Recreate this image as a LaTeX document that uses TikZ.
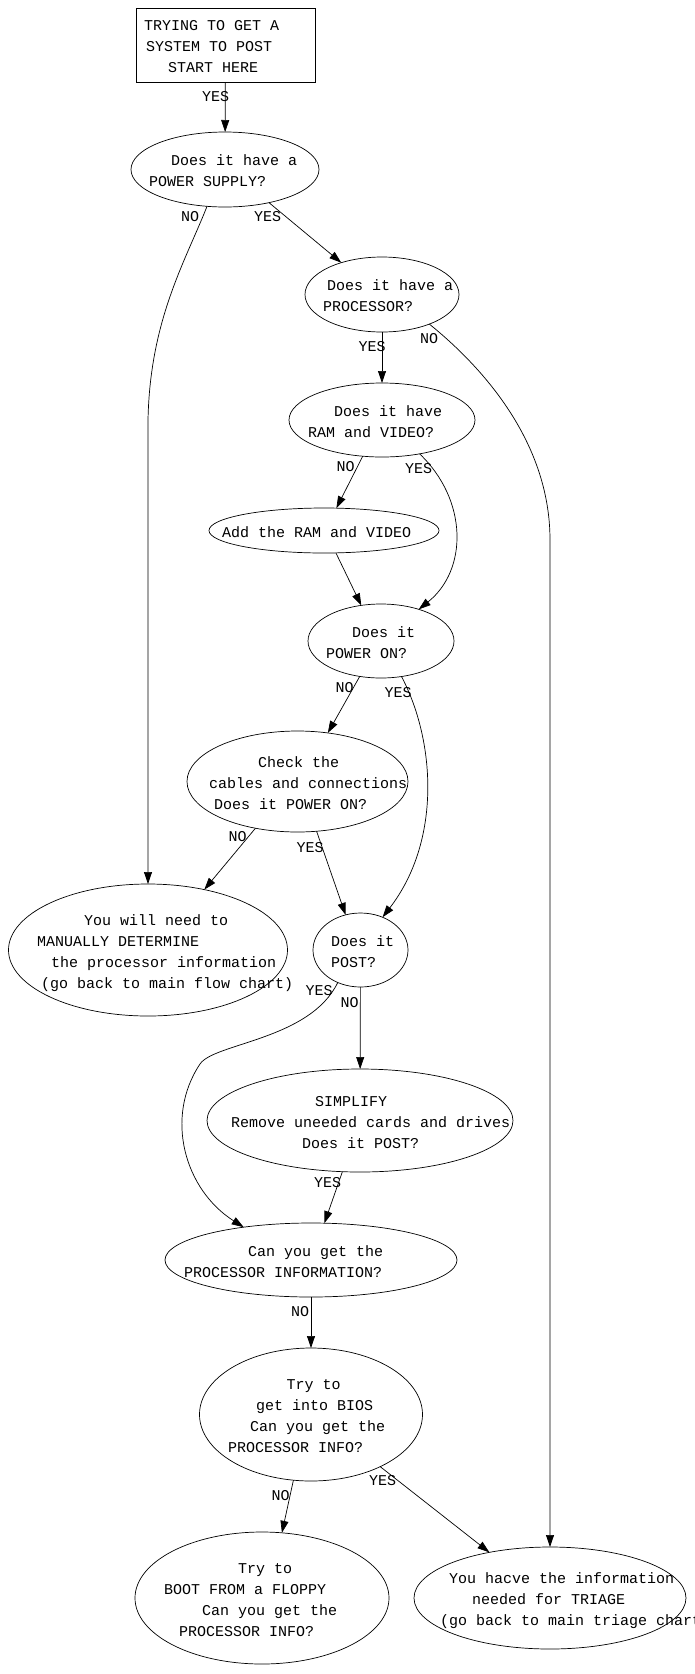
\documentclass[tikz,border=0pt]{standalone}
\usepackage{fontspec}
\setmainfont{Liberation Mono}
\usepackage{tikz}
\usetikzlibrary{arrows.meta,shapes.geometric}
\tikzstyle{startbox} = [rectangle, draw=black, line width=0.8pt, minimum width=179pt, minimum height=74pt, inner sep=0pt, outer sep=0pt, text width=0pt, align=left]
\tikzstyle{decision} = [ellipse, draw=black, line width=0.7pt, inner sep=0pt, outer sep=0pt, text width=0pt, align=left]
\tikzstyle{answer} = [inner sep=0pt]
\tikzstyle{arrow} = [line width=0.7pt, -{Triangle[length=12pt,width=8pt]}]
\newcommand\lineat[2]{\makebox[0pt][l]{\spaceskip=0pt\xspaceskip=0pt\hspace*{#1pt}\rule[-4pt]{0pt}{21pt}#2}}

\begin{document}
\begin{tikzpicture}[x=1pt, y=-1pt, every node/.style={font=\fontsize{15}{21}\selectfont}]
\useasboundingbox (0,0) rectangle (694,1674);

 \node (start) [startbox] at (225.5,45) {\lineat{-81.5}{TRYING TO GET A}\\\lineat{-79.5}{SYSTEM TO POST}\\\lineat{-57.5}{START HERE}};
 \node (ps) [decision, minimum width=188pt, minimum height=75pt] at (225,169.5) {\lineat{-54}{Does it have a}\\\lineat{-76}{POWER SUPPLY?}};
 \node (proc) [decision, minimum width=154pt, minimum height=75pt] at (382,294.5) {\lineat{-55}{Does it have a}\\\lineat{-59}{PROCESSOR?}};
 \node (ram) [decision, minimum width=186pt, minimum height=74pt] at (382,420) {\lineat{-48}{Does it have}\\\lineat{-74}{RAM and VIDEO?}};
 \node (add) [decision, minimum width=230pt, minimum height=45pt] at (324,530.5) {\lineat{-102}{Add the RAM and VIDEO}};
 \node (pwr) [decision, minimum width=146pt, minimum height=74pt] at (381,641) {\lineat{-29}{Does it}\\\lineat{-55}{POWER ON?}};
 \node (check) [decision, minimum width=221pt, minimum height=101pt] at (297.5,781.5) {\lineat{-39.5}{Check the}\\\lineat{-88.5}{cables and connections}\\\lineat{-83.5}{Does it POWER ON?}};
 \node (manual) [decision, minimum width=279pt, minimum height=132pt] at (148,950) {\lineat{-64}{You will need to}\\\lineat{-111}{MANUALLY DETERMINE}\\\lineat{-97}{the processor information}\\\lineat{-107}{(go back to main flow chart)}};
 \node (post) [decision, minimum width=95pt, minimum height=74pt] at (360.5,950) {\lineat{-29.5}{Does it}\\\lineat{-29.5}{POST?}};
 \node (simp) [decision, minimum width=306pt, minimum height=103pt] at (360,1120.5) {\lineat{-45}{SIMPLIFY}\\\lineat{-129}{Remove uneeded cards and drives}\\\lineat{-58}{Does it POST?}};
 \node (pinfo) [decision, minimum width=292pt, minimum height=74pt] at (311,1260) {\lineat{-63}{Can you get the}\\\lineat{-127}{PROCESSOR INFORMATION?}};
 \node (bios) [decision, minimum width=223pt, minimum height=133pt] at (311,1414.5) {\lineat{-24.5}{Try to}\\\lineat{-55}{get into BIOS}\\\lineat{-61}{Can you get the}\\\lineat{-83}{PROCESSOR INFO?}};
 \node (floppy) [decision, minimum width=254pt, minimum height=132pt] at (262,1598) {\lineat{-24}{Try to}\\\lineat{-98}{BOOT FROM a FLOPPY}\\\lineat{-60}{Can you get the}\\\lineat{-83}{PROCESSOR INFO?}};
 \node (triage) [decision, minimum width=272pt, minimum height=102pt] at (550,1598) {\lineat{-101}{You hacve the information}\\\lineat{-78}{needed for TRIAGE}\\\lineat{-110}{(go back to main triage chart)}};

 \draw [arrow] (start) -- (ps);
 \draw [arrow] (ps.244) .. controls (185,262) and (150,320) .. (148,420) -- (manual);
 \draw [arrow] (ps.323) -- (proc.142);
 \draw [arrow] (proc) -- (ram);
 \draw [arrow] (proc.328) .. controls (480,365) and (550,440) .. (550,540) -- (triage);
 \draw [arrow] (ram.242) -- (add.61);
 \draw [arrow] (ram.318) .. controls (468,500) and (468,570) .. (pwr.40);
 \draw [arrow] (add.298) -- (pwr.119);
 \draw [arrow] (pwr.239) -- (check.58);
 \draw [arrow] (pwr.300) .. controls (435,740) and (442,840) .. (post.56);
 \draw [arrow] (check.228) -- (manual.47);
 \draw [arrow] (check.291) -- (post.113);
 \draw [arrow] (post.235) .. controls (310,1040) and (214,1043) .. (200,1064) .. controls (164,1118) and (185,1190) .. (pinfo.154);
 \draw [arrow] (post) -- (simp);
 \draw [arrow] (simp.251) -- (pinfo.70);
 \draw [arrow] (pinfo) -- (bios);
 \draw [arrow] (bios.255) -- (floppy.73);
 \draw [arrow] (bios.323) -- (triage.143);

 \node (yes1) [answer] at (215.5,97) {YES};
 \node (no1) [answer] at (190,217) {NO};
 \node (yes2) [answer] at (267.5,217) {YES};
 \node (yes3) [answer] at (372,347) {YES};
 \node (no2) [answer] at (429,339) {NO};
 \node (no3) [answer] at (345.5,467) {NO};
 \node (yes4) [answer] at (418.5,469) {YES};
 \node (no4) [answer] at (344.5,688) {NO};
 \node (yes5) [answer] at (398,693) {YES};
 \node (no5) [answer] at (237.5,837) {NO};
 \node (yes6) [answer] at (310,848) {YES};
 \node (yes7) [answer] at (319,991) {YES};
 \node (no6) [answer] at (349.5,1003) {NO};
 \node (yes8) [answer] at (327.5,1183) {YES};
 \node (no7) [answer] at (300,1312) {NO};
 \node (no8) [answer] at (280.5,1496) {NO};
 \node (yes9) [answer] at (382.5,1481) {YES};
\end{tikzpicture}
\end{document}
